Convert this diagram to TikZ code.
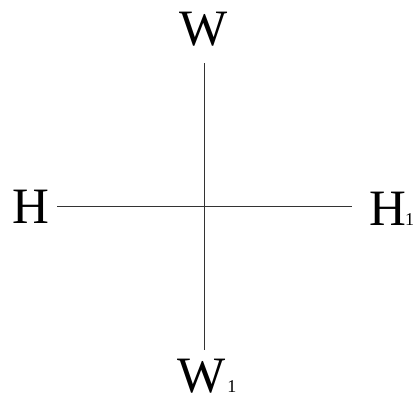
\documentclass[tikz,border=0pt]{standalone}
\usepackage{fontspec}
\setmainfont{Liberation Serif}
\usetikzlibrary{positioning}
\newcommand{\subone}{{\fontsize{18}{18}\selectfont 1}}
\tikzset{
  lbl/.style  ={inner sep=0pt, text depth=0pt, font=\fontsize{51}{51}\selectfont},
  axis/.style ={draw=black!80, line width=0.7pt},
}
\begin{document}
\begin{tikzpicture}[x=1pt, y=-1pt]
  \useasboundingbox (0,0) rectangle (413,399);

  % labels
  \node[lbl, anchor=base] (w) at (204,45) {W};
  \node[lbl, anchor=base west] (w1) at (177,392) {W\kern2pt\subone};
  \node[lbl, anchor=base west] (h) at (12,223) {H};
  \node[lbl, anchor=base west] (h1) at (369,225) {H\kern-1pt\subone};

  % line ends
  \coordinate (top) at (204,63);
  \coordinate (bot) at (204,350);
  \coordinate (lft) at (57,206);
  \coordinate (rgt) at (352,206);

  % cross
  \draw[axis] (top) -- (bot);
  \draw[axis] (lft) -- (rgt);
\end{tikzpicture}
\end{document}
